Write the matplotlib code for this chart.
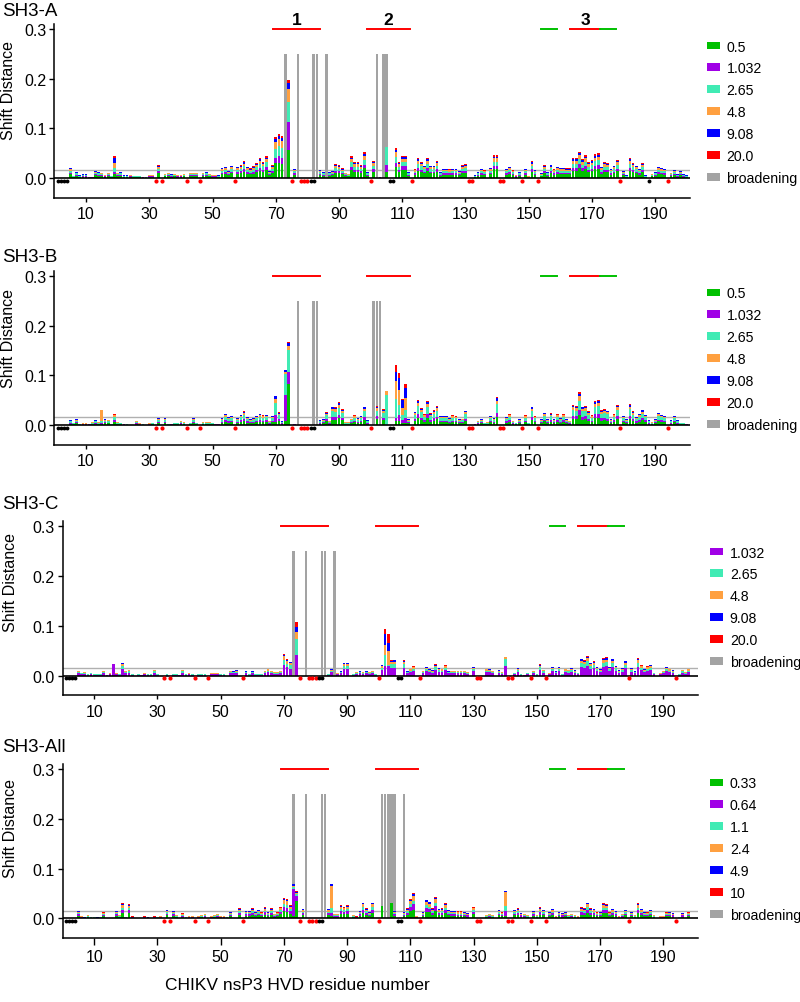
import matplotlib
matplotlib.use("Agg")
import matplotlib.pyplot as plt
import numpy as np
from matplotlib.patches import Patch

plt.rcParams['font.family'] = ['Liberation Sans', 'DejaVu Sans']

residues = np.arange(1, 201)

# total shift distance (top of stack) per residue 1..200
sd_A = [0, 0, 0, 0, .021, .005, .013, .006, .008, .008,
        .003, .003, .015, .013, .011, .007, .011, .005, .044, .011,
        .013, .006, .006, .007, .005, .005, .005, .003, .002, .007,
        .007, 0, .026, 0, .009, .011, .008, .009, .007, .007,
        .009, 0, .011, .011, .011, 0, .011, .013, .009, .007,
        .007, .006, .021, .023, .015, .025, 0, .023, .026, .034,
        .023, .020, .024, .030, .040, .033, .044, .015, .026, .082,
        .089, .084, 0, .197, 0, .019, 0, 0, 0, 0,
        0, 0, 0, .017, .013, 0, .013, .015, .028, .026,
        .020, .011, .009, .044, .032, .032, .026, .052, .013, 0,
        .035, 0, .003, 0, .062, 0, 0, .060, .032, .045,
        .045, .013, 0, .018, .040, .033, .025, .040, .025, .025,
        .035, .013, .019, .019, .018, .019, .019, .015, .026, .028,
        0, 0, .006, .013, .019, .016, 0, .021, .046, .046,
        0, 0, .019, .023, .016, .007, .013, 0, .019, .004,
        .034, .017, 0, .010, .026, .013, .027, .018, .023, .021,
        .021, .020, .020, .040, .040, .053, .038, .046, .032, .036,
        .048, .050, .023, .032, .030, .019, .025, .037, 0, .015,
        .006, .040, .030, .025, .019, .030, .006, 0, .009, .013,
        .023, .021, .019, 0, .011, .017, .008, .015, .008, .006]

sd_B = [0, 0, 0, 0, .010, .005, .012, .002, .004, .004,
        .003, .007, .010, .007, .030, .012, .011, .002, .022, .007,
        .005, .003, .002, .001, 0, .009, .004, .002, 0, .004,
        .005, 0, .015, 0, .014, .002, .003, .005, .005, .009,
        .007, 0, .005, .014, .005, 0, .007, .007, .007, .005,
        .003, .003, .015, .023, .017, .019, 0, .015, .021, .028,
        .017, .012, .015, .019, .023, .020, .021, .009, .019, .059,
        .026, .008, .111, .168, 0, .003, 0, 0, 0, 0,
        0, 0, 0, .010, .012, .026, .009, .037, .036, .046,
        .032, .007, .007, .013, .020, .015, .019, .037, .010, 0,
        0, .039, 0, .032, .068, 0, 0, .121, .105, .052,
        .083, .012, 0, .027, .051, .034, .022, .048, .024, .030,
        .038, .019, .019, .019, .015, .020, .018, .012, .013, .029,
        0, 0, .003, .009, .012, .005, .007, .019, .015, .056,
        0, 0, .017, .022, .009, .005, .012, 0, .020, .005,
        .037, .018, 0, .012, .025, .012, .024, .012, .022, .015,
        .022, .012, .009, .041, .039, .066, .037, .039, .028, .020,
        .049, .050, .030, .032, .029, .012, .022, .041, 0, .019,
        .012, .042, .028, .017, .023, .031, .021, .010, .007, .012,
        .025, .021, .019, 0, .010, .019, .010, .005, .005, .003]

sd_C = [0, 0, 0, 0, .010, .006, .008, .004, .006, .003,
        .003, .003, .010, .002, .005, .023, .005, .003, .026, .010,
        .012, .003, 0, .003, .002, .005, .003, .003, .012, .004,
        0, 0, .003, 0, .004, .003, .002, .012, .003, .005,
        .003, 0, .003, .004, .004, 0, .005, .005, .005, .003,
        .003, 0, .010, .009, .011, 0, 0, .009, .003, .009,
        .003, .003, .003, .010, .014, .010, .008, .008, .010, .044,
        .033, .028, 0, .107, 0, 0, 0, 0, 0, 0,
        0, 0, 0, .003, .013, 0, .005, .009, .026, .026,
        0, .003, .007, .009, .007, .009, .007, .010, .004, 0,
        .022, .093, .083, .031, .032, 0, 0, .031, .009, .014,
        .019, 0, 0, .010, .017, .013, .011, .023, .015, .014,
        .021, .009, .010, .010, .010, .010, .010, .007, 0, .017,
        0, 0, 0, .014, .013, .010, 0, .011, .007, .038,
        0, 0, .006, .015, .003, .002, .006, 0, .010, .003,
        .023, .012, 0, .005, .017, .009, .017, .003, .014, .012,
        .015, .011, .006, .034, .031, .040, .026, .029, .017, .013,
        .036, .037, .017, .034, .020, .011, .016, .030, 0, .015,
        .009, .036, .021, .013, .019, .022, .006, 0, .005, .010,
        .017, .014, .011, 0, .003, .012, .007, .014, 0, 0]

sd_All = [0, 0, 0, 0, .015, .005, .002, .007, .003, .003,
          .002, .003, .012, 0, 0, 0, .015, .007, .031, .003,
          .029, .004, 0, .001, .001, .004, .002, 0, .004, .003,
          .005, 0, .017, 0, .015, .007, 0, .010, .003, .005,
          .005, 0, .005, .007, .009, 0, .005, .007, .009, .005,
          .005, .003, .013, 0, 0, .020, 0, .015, .015, .020,
          .013, .017, .012, .022, .013, .020, .009, .012, .023, .042,
          .039, .027, .069, .056, 0, .019, 0, 0, 0, 0,
          0, 0, 0, .019, .069, .009, .009, .027, .023, .027,
          0, .007, .004, .015, .032, .020, .013, .032, 0, 0,
          .024, 0, 0, .031, .015, 0, 0, .013, .020, .040,
          .051, .005, 0, .013, .038, .034, .020, .044, .019, .020,
          .031, .017, .015, .015, .014, .014, .013, .011, 0, .023,
          0, 0, 0, .007, .009, .007, 0, .017, .012, .056,
          0, 0, .017, .020, .011, .009, .007, 0, .015, .007,
          .022, .017, 0, .013, .019, .005, .013, .011, .013, .007,
          .009, .007, .005, .022, .020, .032, .020, .019, .012, .013,
          .031, .029, .012, .019, .015, .005, .009, .017, 0, .013,
          .007, .031, .019, .013, .012, .017, .007, 0, .005, .005,
          .012, .013, .011, 0, .003, .011, 0, .012, 0, 0]

# typical cumulative share of each titration point in a stack
prof_A = [0.38, 0.52, 0.72, 0.86, 0.94, 1.0]
prof_B = [0.30, 0.45, 0.75, 0.88, 0.96, 1.0]
prof_C = [0.0, 0.50, 0.72, 0.87, 0.95, 1.0]
prof_All = [0.35, 0.55, 0.70, 0.88, 0.95, 1.0]

# stacks read individually (cumulative tops, lowest concentration first)
stacks_A = {19: [.008, .012, .020, .030, .040, .044],
            70: [.031, .040, .058, .073, .078, .082],
            71: [.030, .045, .065, .078, .085, .089],
            72: [.028, .040, .060, .074, .080, .084],
            74: [.056, .113, .153, .180, .192, .197],
            105: [.012, .027, .062, .062, .062, .062]}
stacks_B = {15: [.003, .005, .008, .030, .030, .030],
            70: [.006, .020, .045, .052, .059, .059],
            73: [.009, .060, .103, .107, .111, .111],
            74: [.083, .107, .152, .160, .166, .168],
            105: [0, 0, .060, .068, .068, .068],
            108: [.009, .015, .052, .089, .106, .121],
            109: [.008, .020, .040, .070, .095, .105],
            110: [.005, .010, .020, .035, .050, .052],
            111: [.005, .015, .030, .055, .075, .083]}
stacks_C = {16: [0, .023, .023, .023, .023, .023],
            74: [0, .042, .074, .088, .098, .107],
            102: [0, .019, .042, .062, .084, .093],
            103: [0, .020, .022, .050, .065, .083],
            140: [0, .020, .033, .038, .038, .038]}
stacks_All = {73: [.005, .060, .064, .066, .069, .069],
              74: [.036, .045, .050, .052, .054, .056],
              85: [.004, .010, .020, .066, .069, .069],
              101: [.024, .024, .024, .024, .024, .024],
              104: [.031, .031, .031, .031, .031, .031],
              140: [.005, .015, .025, .053, .056, .056]}

broad_A = [73, 77, 82, 83, 86, 102, 104, 105]
broad_B = [77, 82, 83, 101, 102, 103]
broad_C = [73, 77, 82, 83, 86]
broad_All = [73, 77, 82, 83, 101, 102, 103, 104, 105, 108]

red_dots = [32, 34, 42, 46, 57, 75, 78, 79, 80, 100, 113, 131, 132,
            141, 142, 148, 153, 179, 194]
black_A = [1, 2, 3, 4, 81, 82, 106, 107, 188]
black_other = [1, 2, 3, 4, 81, 82, 106, 107]

red_regions = [(69, 84), (99, 112.5), (163, 172.5)]
green_regions = [(154, 159), (172.5, 177.5)]
region_names = ['1', '2', '3']
region_centers = [76.5, 105.5, 168]

labels_AB = ['0.5', '1.032', '2.65', '4.8', '9.08', '20.0']
labels_All = ['0.33', '0.64', '1.1', '2.4', '4.9', '10']
colors = ['#00C000', '#A000E6', '#40EBB4', '#FFA040', '#0000FF', '#FF0000']
gray = '#A3A3A3'

W, H = 800, 1003
fig = plt.figure(figsize=(W / 100, H / 100), dpi=100)


def draw_panel(rect, name, sd, prof, stacks, broad, blacks, thr, labels,
               skip_first, legend_xy, title_y, ylabel_y, ylabel_x, ticklen, numbers):
    ax = fig.add_axes(rect)
    sd = np.array(sd)
    cum = np.outer(sd, prof)
    for r, s in stacks.items():
        cum[r - 1] = s
    ax.bar(broad, 0.25, width=0.85, color=gray, zorder=2, linewidth=0)
    for k in range(5, -1, -1):
        h = cum[:, k]
        m = h > 0
        ax.bar(residues[m], h[m], width=0.85, color=colors[k], zorder=3, linewidth=0)
    ax.axhline(thr, color='#B0B0B0', lw=1.0, zorder=1)
    ax.axhline(0, color='black', lw=1.2, zorder=4)
    ax.plot(red_dots, [-0.006] * len(red_dots), 'o', color='#FF0000', ms=3.0,
            mew=0, clip_on=False, zorder=5)
    ax.plot(blacks, [-0.006] * len(blacks), 'o', color='black', ms=2.8,
            mew=0, clip_on=False, zorder=5)
    for x0, x1 in red_regions:
        ax.plot([x0, x1], [0.3, 0.3], color='#FF0000', lw=1.4, clip_on=False)
    for x0, x1 in green_regions:
        ax.plot([x0, x1], [0.3, 0.3], color='#00C000', lw=1.4, clip_on=False)
    if numbers:
        for t, xc in zip(region_names, region_centers):
            ax.text(xc, 0.303, t, ha='center', va='bottom', fontsize=12.5,
                    fontweight='bold', clip_on=False)

    ax.set_xlim(0, 201)
    ax.set_ylim(-0.04, 0.31)
    ax.set_xticks(np.arange(10, 200, 20))
    ax.set_yticks([0.0, 0.1, 0.2, 0.3])
    ax.set_yticklabels(['0.0', '0.1', '0.2', '0.3'])
    for s in ['top', 'right']:
        ax.spines[s].set_visible(False)
    for s in ['left', 'bottom']:
        ax.spines[s].set_linewidth(1.1)
    ax.tick_params(axis='y', length=3.6, width=1.0, pad=2, labelsize=11.5)
    ax.tick_params(axis='x', length=ticklen, width=1.0, pad=3, labelsize=11.5)
    ax.set_ylabel('Shift Distance', fontsize=11.5)
    ax.yaxis.set_label_coords(ylabel_x / W, 1 - ylabel_y / H, transform=fig.transFigure)

    handles = []
    names = []
    for k in range(6):
        if skip_first and k == 0:
            continue
        handles.append(Patch(facecolor=colors[k], edgecolor='none'))
        names.append(labels[k])
    handles.append(Patch(facecolor=gray, edgecolor='none'))
    names.append('broadening')
    ax.legend(handles, names, loc='upper left',
              bbox_to_anchor=(legend_xy[0] / W, 1 - legend_xy[1] / H),
              bbox_transform=fig.transFigure, frameon=False, borderpad=0,
              borderaxespad=0, handlelength=0.95, handleheight=0.47,
              handletextpad=0.45, labelspacing=0.56, fontsize=10.2)
    fig.text(2 / W, 1 - title_y / H, name, fontsize=13.5, va='center', ha='left')
    return ax


draw_panel([54.4 / W, 1 - 199 / H, 635.6 / W, 174 / H], 'SH3-A', sd_A, prof_A,
           stacks_A, broad_A, black_A, 0.017, labels_AB, False, (706.7, 40.5),
           11, 90, 16.5, 3.0, True)
draw_panel([54.4 / W, 1 - 446 / H, 635.6 / W, 174 / H], 'SH3-B', sd_B, prof_B,
           stacks_B, broad_B, black_other, 0.0155, labels_AB, False, (706.7, 287.5),
           258, 338, 16.5, 3.0, False)
draw_panel([62.6 / W, 1 - 696.4 / H, 635.6 / W, 174 / H], 'SH3-C', sd_C, prof_C,
           stacks_C, broad_C, black_other, 0.0155, labels_AB, True, (710, 546.5),
           505, 583, 18.5, 3.0, False)
draw_panel([62.6 / W, 1 - 939.3 / H, 635.6 / W, 174 / H], 'SH3-All', sd_All, prof_All,
           stacks_All, broad_All, black_other, 0.0155, labels_All, False, (710, 777.5),
           748, 829, 18.5, 5.0, False)

fig.text(297 / W, 1 - 985 / H, 'CHIKV nsP3 HVD residue number', fontsize=12.5,
         ha='center', va='center')

fig.savefig('out.png', dpi=100)
